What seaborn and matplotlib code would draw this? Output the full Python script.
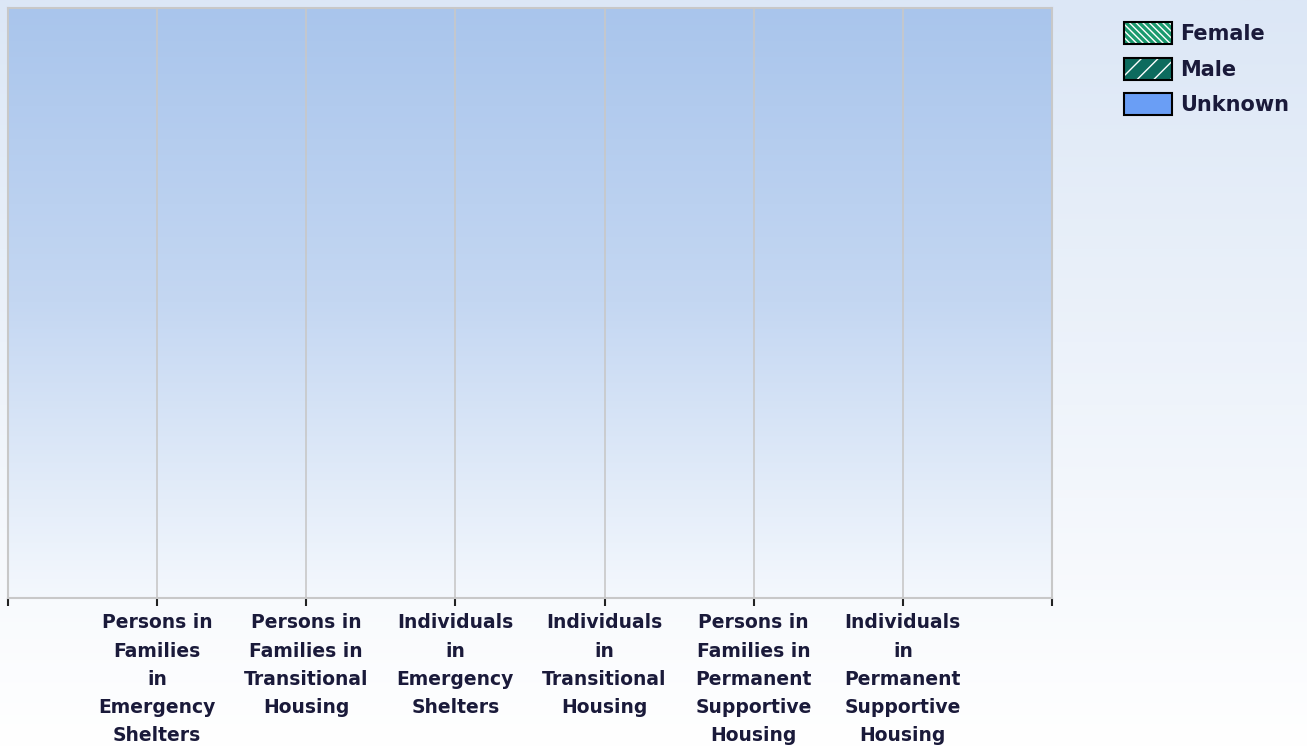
import numpy as np
import pandas as pd
import matplotlib
matplotlib.use("Agg")
import matplotlib.pyplot as plt
from matplotlib.colors import LinearSegmentedColormap
from matplotlib.patches import Patch
from matplotlib.legend_handler import HandlerTuple
import seaborn as sns

categories = [
    "Persons in\nFamilies\nin\nEmergency\nShelters",
    "Persons in\nFamilies in\nTransitional\nHousing",
    "Individuals\nin\nEmergency\nShelters",
    "Individuals\nin\nTransitional\nHousing",
    "Persons in\nFamilies in\nPermanent\nSupportive\nHousing",
    "Individuals\nin\nPermanent\nSupportive\nHousing",
]
female = [0, 0, 0, 0, 0, 0]
male = [0, 0, 0, 0, 0, 0]
unknown = [0, 0, 0, 0, 0, 0]
series_names = ["Female", "Male", "Unknown"]
series_colors = ["#1a9a6e", "#0d6b5e", "#6a9ef5"]
series_hatches = ["\\\\\\\\\\", "//", ""]

sns.set_style("white")
plt.rcParams["font.family"] = ["DejaVu Sans"]
plt.rcParams["hatch.color"] = "white"

W, H = 1307, 747
fig = plt.figure(figsize=(W / 100, H / 100), dpi=100)

# figure background gradient
bg = fig.add_axes([0, 0, 1, 1], zorder=-10)
bg_cmap = LinearSegmentedColormap.from_list("bg", ["#dce7f6", "#ffffff"])
bg.imshow(np.linspace(0, 1, 256).reshape(-1, 1), aspect="auto", cmap=bg_cmap,
          extent=[0, 1, 0, 1], origin="upper")
bg.set_axis_off()

left, right, top, bottom = 8, 1052, 8, 598
ax = fig.add_axes([left / W, 1 - bottom / H, (right - left) / W, (bottom - top) / H])
ax.patch.set_alpha(0)

# plot area gradient
pa_cmap = LinearSegmentedColormap.from_list("pa", ["#a9c5ec", "#c4d7f2", "#f4f8fd"])
ax.imshow(np.linspace(0, 1, 256).reshape(-1, 1), aspect="auto", cmap=pa_cmap,
          extent=[-1, 6, 0, 1], origin="upper", zorder=0)

df = pd.DataFrame({"category": categories, "Female": female, "Male": male, "Unknown": unknown})
bottoms = np.zeros(len(categories))
for name, color, hatch in zip(series_names, series_colors, series_hatches):
    sns.barplot(data=df, x="category", y=name, color=color, hatch=hatch,
                bottom=bottoms, ax=ax, width=0.6, edgecolor="white", zorder=2)
    bottoms = bottoms + df[name].values

ax.set_xlim(-1, 6)
ax.set_ylim(0, 1)
ax.set_xlabel("")
ax.set_ylabel("")
ax.set_yticks([])

for i in range(len(categories)):
    ax.axvline(i, color="#c8c8c8", lw=1.2, zorder=1)

ax.set_xticks(list(range(-1, 7)))
ax.set_xticklabels([""] + categories + [""], fontsize=13.5, color="#1a1a3a",
                   fontweight="bold", linespacing=1.62)
ax.tick_params(axis="x", bottom=True, direction="out", length=6, width=1.5,
               color="#222222", pad=5)
for s in ax.spines.values():
    s.set_color("#c8c8c8")
    s.set_linewidth(1.5)

handles = []
for n, c, h in zip(series_names, series_colors, series_hatches):
    fill = Patch(facecolor=c, hatch=h, edgecolor="white", linewidth=0)
    frame = Patch(facecolor="none", edgecolor="black", linewidth=1.5)
    handles.append((fill, frame))
leg = fig.legend(handles=handles, labels=series_names, loc="upper left",
                 handler_map={tuple: HandlerTuple(ndivide=1)},
                 bbox_to_anchor=(1124 / W, 1 - 22 / H),
                 frameon=False, fontsize=15, handlelength=2.3, handleheight=1.25,
                 handletextpad=0.4, labelspacing=0.65, borderaxespad=0, borderpad=0)
for t in leg.get_texts():
    t.set_color("#1a1a3a")
    t.set_fontweight("bold")

fig.savefig("out.png", dpi=100)
